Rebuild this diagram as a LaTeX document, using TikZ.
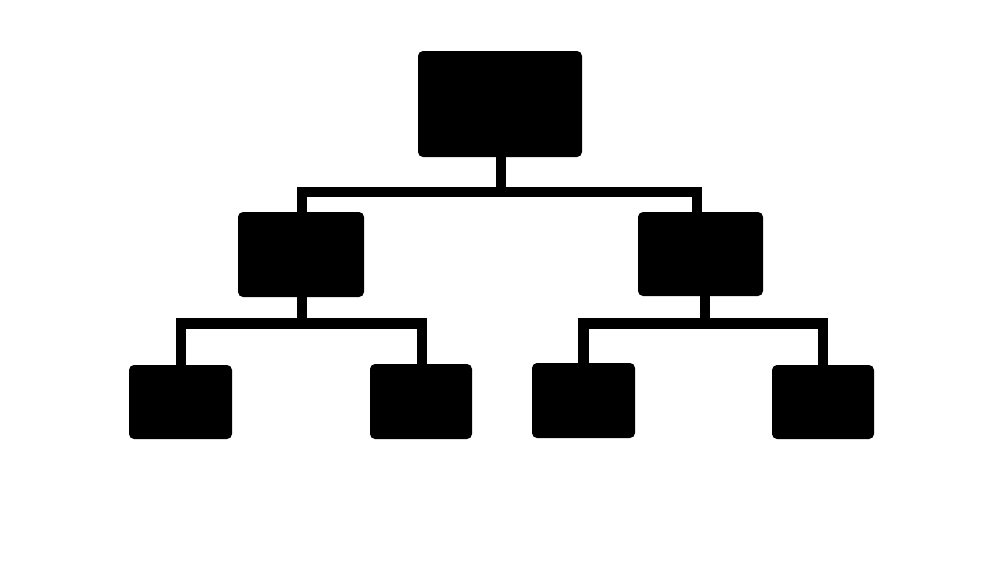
\documentclass[tikz,border=0pt]{standalone}
\begin{document}
\begin{tikzpicture}[x=1pt,y=-1pt,
  box/.style={fill=black, rounded corners=5pt, inner sep=0pt, outer sep=0pt},
  conn/.style={draw=black, line width=10.5pt, line join=miter, line cap=butt}]
\fill[white] (0,0) rectangle (1000,563);
\useasboundingbox (0,0) rectangle (1000,563);
% boxes
\node[box, minimum width=164pt, minimum height=106pt] (root) at (500,104) {};
\node[box, minimum width=126pt, minimum height=85pt] (ml) at (301,254.5) {};
\node[box, minimum width=125pt, minimum height=84pt] (mr) at (700.5,254) {};
\node[box, minimum width=103pt, minimum height=74pt] (b1) at (180.5,402) {};
\node[box, minimum width=102pt, minimum height=75pt] (b2) at (421,401.5) {};
\node[box, minimum width=103pt, minimum height=75pt] (b3) at (583.5,400.5) {};
\node[box, minimum width=102pt, minimum height=74pt] (b4) at (823,402) {};
% junctions
\coordinate (j1) at (501,192);
\coordinate (j2) at (302,323.5);
\coordinate (j3) at (705,323.5);
% connectors
\draw[conn] ([xshift=1pt]root.south) -- (j1);
\draw[conn] ([xshift=1pt]ml.north) |- (j1) -| ([xshift=-3.5pt]mr.north);
\draw[conn] ([xshift=1pt]ml.south) -- (j2);
\draw[conn] ([xshift=0.5pt]b1.north) |- (j2) -| ([xshift=1pt]b2.north);
\draw[conn] ([xshift=4.5pt]mr.south) -- (j3);
\draw[conn] (b3.north) |- (j3) -| (b4.north);
\end{tikzpicture}
\end{document}
